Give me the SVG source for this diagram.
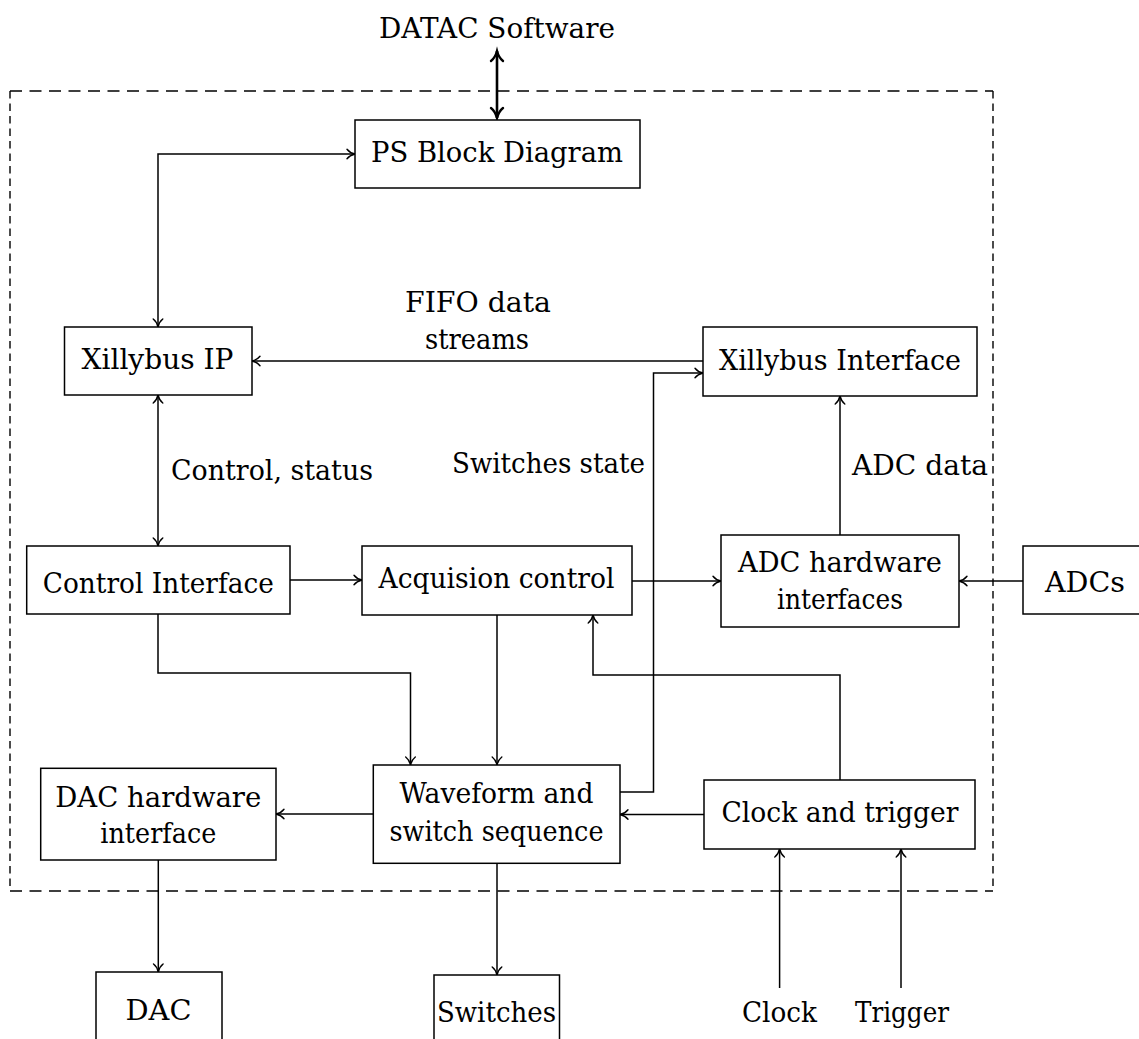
<svg xmlns="http://www.w3.org/2000/svg" width="1139" height="1039" viewBox="0 0 1139 1039">
<defs>
<style>
.box{fill:#fff;stroke:#000;stroke-width:1.5}
text{font-family:'DejaVu Serif','Liberation Serif',serif;font-size:28.5px;fill:#000}
.t{text-anchor:middle}
.c{fill:none;stroke:#000;stroke-width:1.5}
.thick{fill:none;stroke:#000;stroke-width:2.6}
.dh{stroke:#000;stroke-width:1.4;stroke-dasharray:12 7.5}
.dv{stroke:#000;stroke-width:1.4;stroke-dasharray:7.5 5}
</style>
<marker id="ah" markerUnits="userSpaceOnUse" viewBox="-12 -8 14 16" refX="0" refY="0" markerWidth="14" markerHeight="16" orient="auto-start-reverse" overflow="visible">
<path d="M-8,-4.8 C-6,-2.2 -2.5,-0.6 0,0 C-2.5,0.6 -6,2.2 -8,4.8" fill="none" stroke="#000" stroke-width="1.4" stroke-linecap="round"/>
</marker>
<marker id="ahb" markerUnits="userSpaceOnUse" viewBox="-14 -9 16 18" refX="0" refY="0" markerWidth="16" markerHeight="18" orient="auto-start-reverse" overflow="visible">
<path d="M-10,-6 C-7.5,-2.8 -3,-0.8 0,0 C-3,0.8 -7.5,2.8 -10,6" fill="none" stroke="#000" stroke-width="2.4" stroke-linecap="round"/>
</marker>
</defs>
<rect width="1139" height="1039" fill="#fff"/>

<g id="boundary">
<line class="dh" x1="10" y1="91" x2="993" y2="91"/>
<line class="dh" x1="10" y1="891" x2="993" y2="891"/>
<line class="dv" x1="10" y1="91" x2="10" y2="891"/>
<line class="dv" x1="993" y1="91" x2="993" y2="891"/>
</g>

<g id="connectors">
<line class="thick" x1="497" y1="51" x2="497" y2="118" marker-start="url(#ahb)" marker-end="url(#ahb)"/>
<path class="c" d="M158,327 V154 H355" marker-start="url(#ah)" marker-end="url(#ah)"/>
<path class="c" d="M703,361 H252" marker-end="url(#ah)"/>
<path class="c" d="M158,395 V546" marker-start="url(#ah)" marker-end="url(#ah)"/>
<path class="c" d="M290,580 H362" marker-end="url(#ah)"/>
<path class="c" d="M632,581 H721" marker-end="url(#ah)"/>
<path class="c" d="M1023,581 H959" marker-end="url(#ah)"/>
<path class="c" d="M840,535 V396" marker-end="url(#ah)"/>
<path class="c" d="M158,614 V673 H410.5 V765" marker-end="url(#ah)"/>
<path class="c" d="M497,615 V765" marker-end="url(#ah)"/>
<path class="c" d="M840,780 V675 H593 V615" marker-end="url(#ah)"/>
<path class="c" d="M620,792 H653.5 V373 H703" marker-end="url(#ah)"/>
<path class="c" d="M704,814.5 H620" marker-end="url(#ah)"/>
<path class="c" d="M373,814 H276" marker-end="url(#ah)"/>
<path class="c" d="M158.3,860 V972" marker-end="url(#ah)"/>
<path class="c" d="M497,863 V975" marker-end="url(#ah)"/>
<path class="c" d="M779.6,988 V849" marker-end="url(#ah)"/>
<path class="c" d="M901,988 V849" marker-end="url(#ah)"/>
</g>

<g id="labels">
<text class="t" x="497" y="38" textLength="236" lengthAdjust="spacingAndGlyphs">DATAC Software</text>
<text class="t" x="478" y="312" textLength="146" lengthAdjust="spacingAndGlyphs">FIFO data</text>
<text class="t" x="477" y="349" textLength="104" lengthAdjust="spacingAndGlyphs">streams</text>
<text x="171" y="480" textLength="202" lengthAdjust="spacingAndGlyphs">Control, status</text>
<text x="452" y="473" textLength="193" lengthAdjust="spacingAndGlyphs">Switches state</text>
<text x="852" y="475" textLength="136" lengthAdjust="spacingAndGlyphs">ADC data</text>
</g>

<g id="ps-block">
<rect class="box" x="355" y="120" width="285" height="68"/>
<text class="t" x="497" y="162" textLength="252" lengthAdjust="spacingAndGlyphs">PS Block Diagram</text>
</g>
<g id="xillybus-ip">
<rect class="box" x="64.5" y="327" width="187.5" height="68"/>
<text class="t" x="157.5" y="369" textLength="152" lengthAdjust="spacingAndGlyphs">Xillybus IP</text>
</g>
<g id="xillybus-interface">
<rect class="box" x="703" y="327" width="274" height="69"/>
<text class="t" x="840" y="369.5" textLength="242" lengthAdjust="spacingAndGlyphs">Xillybus Interface</text>
</g>
<g id="control-interface">
<rect class="box" x="26.7" y="546" width="263.3" height="68"/>
<text class="t" x="158.3" y="592.5" textLength="231" lengthAdjust="spacingAndGlyphs">Control Interface</text>
</g>
<g id="acquisition-control">
<rect class="box" x="362" y="546" width="270" height="69"/>
<text class="t" x="496.5" y="588" textLength="236" lengthAdjust="spacingAndGlyphs">Acquision control</text>
</g>
<g id="adc-hw">
<rect class="box" x="721" y="535" width="238" height="92"/>
<text class="t" x="840" y="572" textLength="204" lengthAdjust="spacingAndGlyphs">ADC hardware</text>
<text class="t" x="840" y="609" textLength="126" lengthAdjust="spacingAndGlyphs">interfaces</text>
</g>
<g id="adcs">
<rect class="box" x="1023" y="546" width="130" height="68"/>
<text class="t" x="1085" y="592" textLength="80" lengthAdjust="spacingAndGlyphs">ADCs</text>
</g>
<g id="waveform">
<rect class="box" x="373.3" y="765" width="246.7" height="98.3"/>
<text class="t" x="496.5" y="803" textLength="194" lengthAdjust="spacingAndGlyphs">Waveform and</text>
<text class="t" x="496.5" y="840.5" textLength="214" lengthAdjust="spacingAndGlyphs">switch sequence</text>
</g>
<g id="dac-hw">
<rect class="box" x="40.7" y="768.3" width="235.3" height="91.7"/>
<text class="t" x="158.3" y="806.7" textLength="206" lengthAdjust="spacingAndGlyphs">DAC hardware</text>
<text class="t" x="158.3" y="843.3" textLength="116" lengthAdjust="spacingAndGlyphs">interface</text>
</g>
<g id="clock-trigger">
<rect class="box" x="704" y="780" width="271" height="69"/>
<text class="t" x="840" y="822" textLength="237" lengthAdjust="spacingAndGlyphs">Clock and trigger</text>
</g>
<g id="dac">
<rect class="box" x="96" y="972" width="126" height="80"/>
<text class="t" x="158.5" y="1020" textLength="66" lengthAdjust="spacingAndGlyphs">DAC</text>
</g>
<g id="switches">
<rect class="box" x="434" y="975" width="125.5" height="80"/>
<text class="t" x="496.5" y="1022" textLength="119" lengthAdjust="spacingAndGlyphs">Switches</text>
</g>
<g id="clock">
<text class="t" x="779.5" y="1022" textLength="75" lengthAdjust="spacingAndGlyphs">Clock</text>
</g>
<g id="trigger">
<text class="t" x="902" y="1022" textLength="94" lengthAdjust="spacingAndGlyphs">Trigger</text>
</g>
</svg>
